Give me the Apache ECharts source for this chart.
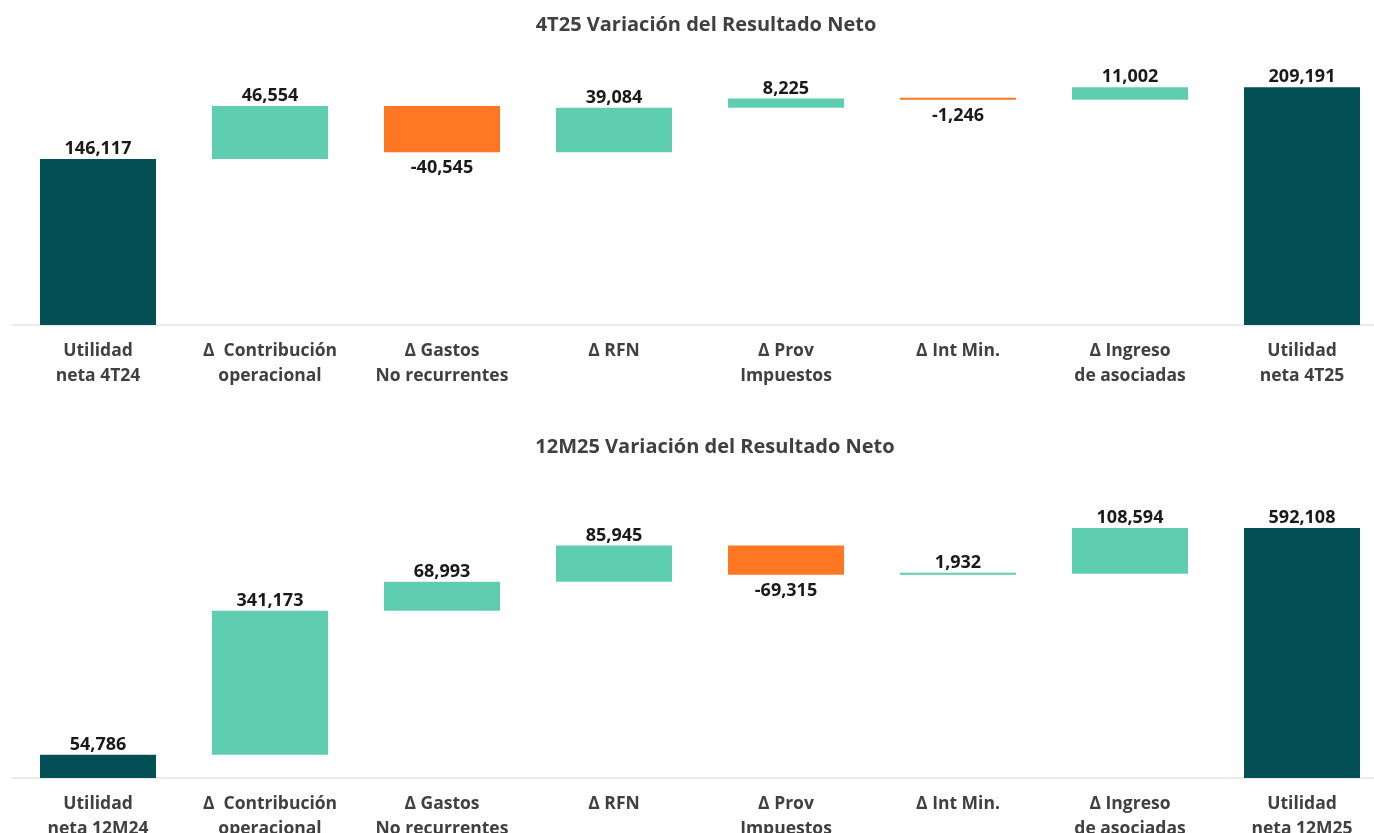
<!DOCTYPE html>
<html>
<head>
<meta charset="utf-8">
<script src="https://cdn.jsdelivr.net/npm/echarts@6/dist/echarts.min.js"></script>
<style>
  html, body { margin: 0; padding: 0; background: #fff; }
  #chart { width: 1374px; height: 833px; }
</style>
</head>
<body>
<div id="chart"></div>
<script>
const titleTop = '4T25 Variación del Resultado Neto'
const titleBottom = '12M25 Variación del Resultado Neto'

const categoriesTop = ['Utilidad\nneta 4T24', 'Δ  Contribución\noperacional', 'Δ Gastos\nNo recurrentes', 'Δ RFN', 'Δ Prov\nImpuestos', 'Δ Int Min.', 'Δ Ingreso\nde asociadas', 'Utilidad\nneta 4T25']
const valuesTop = [146117, 46554, -40545, 39084, 8225, -1246, 11002, 209191]

const categoriesBottom = ['Utilidad\nneta 12M24', 'Δ  Contribución\noperacional', 'Δ Gastos\nNo recurrentes', 'Δ RFN', 'Δ Prov\nImpuestos', 'Δ Int Min.', 'Δ Ingreso\nde asociadas', 'Utilidad\nneta 12M25']
const valuesBottom = [54786, 341173, 68993, 85945, -69315, 1932, 108594, 592108]

// first and last bars are totals, the rest are changes
const totalIdx = [0, 7]

const DARK = '#024F55'
const UP = '#5FCEB0'
const DOWN = '#FF7722'
const FONT = '"Open Sans", sans-serif'

const fmt = v => (v < 0 ? '-' : '') + Math.abs(v).toLocaleString('en-US')

// split values into invisible base + visible bar
function waterfall(values) {
    const base = []
    const bars = []
    let run = 0
    values.forEach((v, i) => {
        if (totalIdx.includes(i)) {
            base.push(0)
            bars.push({ value: v, raw: v, itemStyle: { color: DARK }, label: { position: 'top', distance: 1 } })
            run = v
        } else if (v >= 0) {
            base.push(run)
            bars.push({ value: v, raw: v, itemStyle: { color: UP }, label: { position: 'top', distance: 1 } })
            run += v
        } else {
            run += v
            base.push(run)
            bars.push({ value: -v, raw: v, itemStyle: { color: DOWN }, label: { position: 'bottom', distance: 7 } })
        }
    })
    return { base, bars }
}

const wfTop = waterfall(valuesTop)
const wfBottom = waterfall(valuesBottom)

const xAxisCommon = {
    type: 'category',
    axisTick: { show: false },
    axisLine: { lineStyle: { color: '#E3E3E3', width: 1.5 } },
    axisLabel: {
        color: '#404040',
        fontFamily: FONT,
        fontWeight: 'bold',
        fontSize: 17.5,
        lineHeight: 25,
        margin: 14,
        interval: 0
    }
}

const yAxisCommon = {
    type: 'value',
    min: 0,
    show: false,
    splitLine: { show: false }
}

const labelCommon = {
    show: true,
    color: '#1A1A1A',
    fontFamily: FONT,
    fontWeight: 'bold',
    fontSize: 18,
    formatter: p => fmt(p.data.raw)
}

const titleStyle = { fill: '#404040', font: 'bold 20px "Open Sans", sans-serif', textAlign: 'center', textVerticalAlign: 'middle' }

const chart = echarts.init(document.getElementById('chart'))
chart.setOption({
    animation: false,
    graphic: [
        { type: 'text', x: 706, y: 25, style: { ...titleStyle, text: titleTop } },
        { type: 'text', x: 715, y: 447, style: { ...titleStyle, text: titleBottom } }
    ],
    grid: [
        { left: 12, width: 1376, top: 60, height: 265, outerBoundsMode: 'none' },
        { left: 12, width: 1376, top: 478, height: 300, outerBoundsMode: 'none' }
    ],
    xAxis: [
        { ...xAxisCommon, gridIndex: 0, data: categoriesTop },
        { ...xAxisCommon, gridIndex: 1, data: categoriesBottom }
    ],
    yAxis: [
        { ...yAxisCommon, gridIndex: 0, max: 233250 },
        { ...yAxisCommon, gridIndex: 1, max: 710500 }
    ],
    series: [
        { type: 'bar', xAxisIndex: 0, yAxisIndex: 0, stack: 'a', data: wfTop.base, barWidth: 116, itemStyle: { color: 'transparent' }, silent: true },
        { type: 'bar', xAxisIndex: 0, yAxisIndex: 0, stack: 'a', data: wfTop.bars, barWidth: 116, barMinHeight: 2, label: labelCommon },
        { type: 'bar', xAxisIndex: 1, yAxisIndex: 1, stack: 'b', data: wfBottom.base, barWidth: 116, itemStyle: { color: 'transparent' }, silent: true },
        { type: 'bar', xAxisIndex: 1, yAxisIndex: 1, stack: 'b', data: wfBottom.bars, barWidth: 116, barMinHeight: 2, label: labelCommon }
    ]
})
</script>
</body>
</html>
